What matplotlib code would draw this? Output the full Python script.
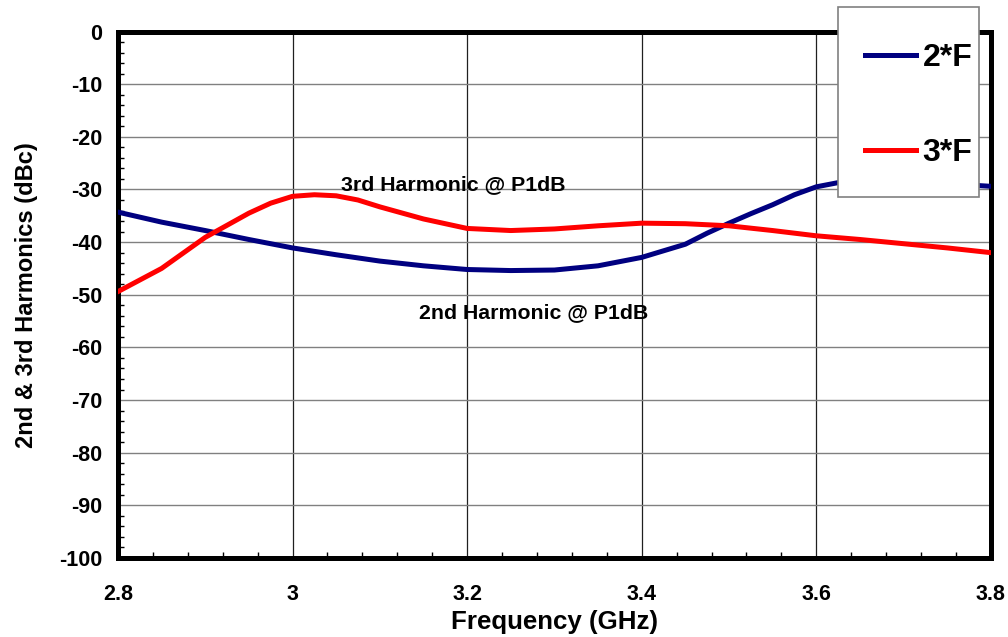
import numpy as np
import matplotlib
matplotlib.use("Agg")
import matplotlib.pyplot as plt
from matplotlib.patches import Rectangle
from matplotlib.ticker import MultipleLocator

plt.rcParams['font.family'] = ['Liberation Sans', 'DejaVu Sans']
plt.rcParams['font.weight'] = 'bold'
plt.rcParams['axes.labelweight'] = 'bold'
plt.rcParams['axes.unicode_minus'] = False

# frequency points (GHz) and harmonic levels (dBc)
freq_2f = [2.80, 2.85, 2.90, 2.95, 3.00, 3.05, 3.10, 3.15, 3.20, 3.25, 3.30,
           3.35, 3.40, 3.45, 3.475, 3.50, 3.525, 3.55, 3.575, 3.60, 3.625, 3.65,
           3.70, 3.75, 3.80]
second_h = [-34.3, -36.2, -37.8, -39.5, -41.1, -42.4, -43.6, -44.5, -45.2, -45.4, -45.3,
            -44.5, -42.9, -40.4, -38.3, -36.4, -34.6, -32.9, -31.0, -29.5, -28.7, -28.4,
            -28.5, -28.9, -29.4]
freq_3f = [2.80, 2.85, 2.90, 2.95, 2.975, 3.00, 3.025, 3.05, 3.075, 3.10, 3.15, 3.20,
           3.25, 3.30, 3.35, 3.40, 3.45, 3.50, 3.55, 3.60, 3.65, 3.70, 3.75, 3.80]
third_h = [-49.4, -45.0, -39.1, -34.5, -32.6, -31.3, -31.0, -31.2, -32.0, -33.3, -35.6, -37.4,
           -37.8, -37.5, -36.9, -36.4, -36.5, -36.9, -37.8, -38.8, -39.5, -40.3, -41.1, -42.0]
labels = ['2*F', '3*F']

fig = plt.figure(figsize=(10.08, 6.37), dpi=100)
ax = fig.add_axes([0.117, 0.124, 0.866, 0.8265])

ax.plot(freq_2f, second_h, color='#000080', lw=3.6, label=labels[0], zorder=3)
ax.plot(freq_3f, third_h, color='#ff0000', lw=3.6, label=labels[1], zorder=3)

ax.set_xlim(2.8, 3.8)
ax.set_ylim(-100, 0)
ax.xaxis.set_major_locator(MultipleLocator(0.2))
ax.xaxis.set_minor_locator(MultipleLocator(0.04))
ax.yaxis.set_major_locator(MultipleLocator(10))
ax.yaxis.set_minor_locator(MultipleLocator(2))
ax.xaxis.set_major_formatter(plt.FuncFormatter(lambda v, p: ('%.1f' % v).rstrip('0').rstrip('.')))

ax.grid(axis='y', which='major', color='#808080', lw=1.0)
ax.grid(axis='x', which='major', color='#202020', lw=0.9)
ax.tick_params(which='major', length=0, labelsize=15.5)
ax.tick_params(which='minor', direction='in', length=4, width=1)
ax.tick_params(axis='y', pad=11.5)
ax.tick_params(axis='x', pad=18.5)

for s in ax.spines.values():
    s.set_linewidth(3.6)

ax.set_xlabel('Frequency (GHz)', fontsize=18.6, labelpad=4)
ax.set_ylabel('2nd & 3rd Harmonics (dBc)', fontsize=17, labelpad=15)

ax.text(3.184, -29.1, '3rd Harmonic @ P1dB', fontsize=15.3, ha='center', va='center')
ax.text(3.276, -53.4, '2nd Harmonic @ P1dB', fontsize=15.3, ha='center', va='center')

# legend box sits partly above the plot area
box = Rectangle((838 / 1008, 1 - 197 / 637), 141 / 1008, 190 / 637, transform=fig.transFigure,
                facecolor='white', edgecolor='#808080', lw=1.2, zorder=4)
fig.patches.append(box)
leg = fig.legend(loc='upper left', bbox_to_anchor=(865 / 1008, 1 - 43 / 637), fontsize=23,
                 frameon=False, handlelength=1.6, handletextpad=0.2, labelspacing=2.05,
                 borderpad=0, borderaxespad=0)
leg.set_zorder(5)

fig.savefig('out.png', dpi=100)
